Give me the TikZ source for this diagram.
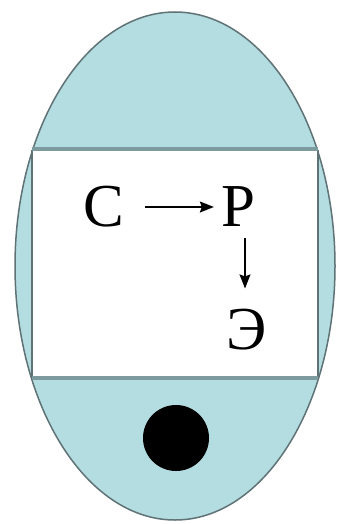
\documentclass[tikz,border=0pt]{standalone}
\usepackage{fontspec}
\setmainfont{Liberation Serif}
\usetikzlibrary{arrows.meta}
\definecolor{shell}{RGB}{180,221,225}
\definecolor{rim}{RGB}{95,115,118}
\definecolor{band}{RGB}{125,155,158}
\tikzset{
  letter/.style={font=\fontsize{61}{61}\selectfont, inner sep=0pt, anchor=base},
  link/.style={line width=1.2pt, -{Stealth[length=14pt,width=11pt,inset=2pt]}}
}
\begin{document}
\begin{tikzpicture}[x=1pt,y=-1pt]
\useasboundingbox (0,0) rectangle (337,524);
\fill[white] (0,0) rectangle (337,524);
% shell
\draw[fill=shell, draw=rim, line width=1.5pt] (175,266) ellipse [x radius=160, y radius=254];
% inner white rectangle
\fill[white] (32,150) rectangle (318,377);
\draw[rim, line width=1.6pt] (32,150) -- (32,377);
\draw[rim, line width=1.6pt] (318,150) -- (318,377);
\draw[band, line width=4.5pt] (32,149) -- (318,149);
\draw[band, line width=4.5pt] (32,378) -- (318,378);
% letters
\node[letter] (c) at (104,226) {С};
\node[letter] (p) at (238,226) {Р};
\node[letter] (e) at (247,349) {Э};
\draw[link, shorten <=20pt, shorten >=7pt] (c.east |- 0,207) -- (p.west |- 0,207);
\draw[link, shorten <=12pt, shorten >=20pt] (p.south -| 245,0) -- (e.north -| 245,0);
% dot
\node[circle, fill=black, minimum size=66pt, inner sep=0pt] (dot) at (176,438) {};
\end{tikzpicture}
\end{document}
